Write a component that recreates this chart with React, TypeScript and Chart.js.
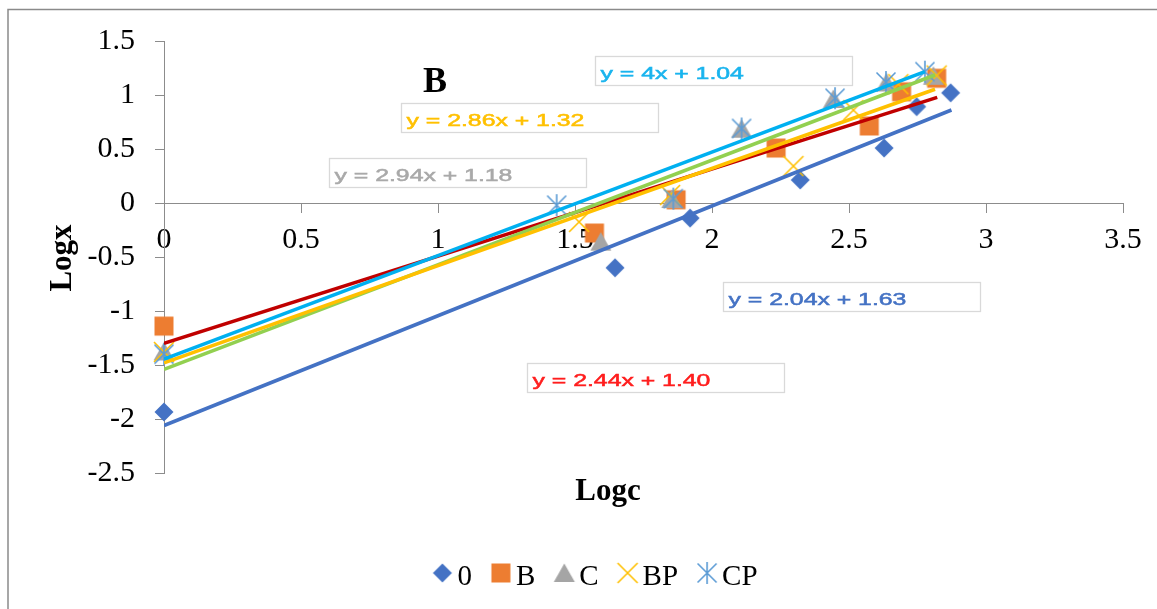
import React, { useEffect, useRef } from 'react';
import { Chart, registerables } from 'chart.js';

Chart.register(...registerables);

// Series names shown in the legend
const seriesNames = ['0', 'B', 'C', 'BP', 'CP'];

// log(c) / log(x) pairs for each series
const logc0 = [0, 1.646, 1.92, 2.322, 2.628, 2.747, 2.871];
const logx0 = [-1.935, -0.6, -0.14, 0.213, 0.509, 0.892, 1.02];

const logcB = [0, 1.571, 1.869, 2.234, 2.574, 2.692, 2.82];
const logxB = [-1.14, -0.278, 0.03, 0.509, 0.713, 1.03, 1.155];

const logcC = [0, 1.594, 1.853, 2.108, 2.443, 2.637, 2.808];
const logxC = [-1.375, -0.358, 0.037, 0.688, 0.963, 1.116, 1.178];

const logcBP = [0, 1.515, 1.847, 2.297, 2.516, 2.68, 2.82];
const logxBP = [-1.38, -0.175, 0.074, 0.342, 0.86, 1.1, 1.18];

const logcCP = [0, 1.433, 1.859, 2.108, 2.449, 2.635, 2.777];
const logxCP = [-1.4, -0.02, 0.04, 0.69, 0.97, 1.12, 1.216];

// Linear trend lines: start / end points
const trend0C = [0, 2.874];
const trend0X = [-2.06, 0.861];
const trendBC = [0, 2.822];
const trendBX = [-1.3, 0.978];
const trendCC = [0, 2.814];
const trendCX = [-1.54, 1.185];
const trendBPC = [0, 2.814];
const trendBPX = [-1.48, 1.053];
const trendCPC = [0, 2.777];
const trendCPX = [-1.445, 1.216];

// Fitted equations printed in text boxes
const equations = [
  'y = 2.04x + 1.63',
  'y = 2.44x + 1.40',
  'y = 2.94x + 1.18',
  'y = 2.86x + 1.32',
  'y = 4x + 1.04',
];

// Axis ranges
const xRange = [0, 3.5];
const yRange = [-2.5, 1.5];
const tickStep = 0.5;

// ---- styling ----
const markerColors = ['#4472C4', '#ED7D31', '#A5A5A5', '#FFC000', '#5B9BD5'];
const trendColors = ['#4472C4', '#C00000', '#92D050', '#FFC000', '#00B0F0'];
const equationColors = ['#4472C4', '#FF1E1E', '#A9A9A9', '#FFC000', '#19B4EE'];
// top-left corner of each equation box, in axis units
const equationAnchors = [
  [2.041, -0.729],
  [1.324, -1.484],
  [0.601, 0.419],
  [0.864, 0.923],
  [1.573, 1.361],
];
const SERIF = '"Liberation Serif", "Times New Roman", serif';
const AXIS_GREY = '#8c8c8c';

function pts(xs: number[], ys: number[]) {
  return xs.map((x, i) => ({ x, y: ys[i] }));
}

function makeMarker(kind: number): HTMLCanvasElement {
  const c = document.createElement('canvas');
  const s = 24;
  c.width = s;
  c.height = s;
  const g = c.getContext('2d') as CanvasRenderingContext2D;
  const m = s / 2;
  g.fillStyle = markerColors[kind];
  g.strokeStyle = markerColors[kind];
  g.lineWidth = 1.6;
  g.beginPath();
  if (kind === 0) {
    g.moveTo(m, m - 9.5);
    g.lineTo(m + 9.5, m);
    g.lineTo(m, m + 9.5);
    g.lineTo(m - 9.5, m);
    g.closePath();
    g.fill();
  } else if (kind === 1) {
    g.rect(m - 9.5, m - 9.5, 19, 19);
    g.fill();
  } else if (kind === 2) {
    g.moveTo(m, m - 9.5);
    g.lineTo(m + 10.5, m + 9);
    g.lineTo(m - 10.5, m + 9);
    g.closePath();
    g.fill();
  } else if (kind === 3) {
    g.moveTo(m - 10, m - 10);
    g.lineTo(m + 10, m + 10);
    g.moveTo(m + 10, m - 10);
    g.lineTo(m - 10, m + 10);
    g.stroke();
  } else {
    g.moveTo(m, m - 11);
    g.lineTo(m, m + 11);
    g.moveTo(m - 9.5, m - 9.5);
    g.lineTo(m + 9.5, m + 9.5);
    g.moveTo(m + 9.5, m - 9.5);
    g.lineTo(m - 9.5, m + 9.5);
    g.stroke();
  }
  return c;
}

export default function App() {
  const canvasRef = useRef<HTMLCanvasElement | null>(null);

  useEffect(() => {
    const canvas = canvasRef.current;
    if (!canvas) return;
    const markers = [0, 1, 2, 3, 4].map(makeMarker);

    const seriesX = [logc0, logcB, logcC, logcBP, logcCP];
    const seriesY = [logx0, logxB, logxC, logxBP, logxCP];
    const trendX = [trend0C, trendBC, trendCC, trendBPC, trendCPC];
    const trendY = [trend0X, trendBX, trendCX, trendBPX, trendCPX];

    const pointSets = seriesNames.map((name, i) => ({
      label: name,
      data: pts(seriesX[i], seriesY[i]),
      pointStyle: markers[i],
      pointRadius: 10,
      showLine: false,
      clip: false,
      order: 10 - i,
    }));
    const lineSets = seriesNames.map((name, i) => ({
      label: 'trend ' + name,
      data: pts(trendX[i], trendY[i]),
      showLine: true,
      pointRadius: 0,
      borderColor: trendColors[i],
      borderWidth: 3.6,
      fill: false,
      order: -1 - i,
    }));

    const decor = {
      id: 'decor',
      beforeDraw(chart: any) {
        const ctx = chart.ctx as CanvasRenderingContext2D;
        ctx.save();
        ctx.fillStyle = '#ffffff';
        ctx.fillRect(0, 0, chart.width, chart.height);
        ctx.strokeStyle = '#8a8a8a';
        ctx.lineWidth = 1.5;
        ctx.strokeRect(8, 9.5, chart.width + 40, chart.height + 40);
        ctx.restore();
      },
      afterDraw(chart: any) {
        const ctx = chart.ctx as CanvasRenderingContext2D;
        const xs = chart.scales.x;
        const ys = chart.scales.y;
        ctx.save();

        // equation text boxes
        equations.forEach((text, i) => {
          const left = Math.round(xs.getPixelForValue(equationAnchors[i][0])) + 0.5;
          const top = Math.round(ys.getPixelForValue(equationAnchors[i][1])) + 0.5;
          ctx.strokeStyle = '#d9d9d9';
          ctx.lineWidth = 1.3;
          ctx.strokeRect(left, top, 257, 29);
          ctx.save();
          ctx.translate(left + 5, top + 22);
          ctx.scale(1.55, 1);
          ctx.font = '16px "Liberation Sans", Arial, sans-serif';
          ctx.fillStyle = equationColors[i];
          ctx.strokeStyle = equationColors[i];
          ctx.lineWidth = 0.5;
          ctx.textBaseline = 'alphabetic';
          ctx.textAlign = 'left';
          ctx.fillText(text, 0, 0);
          ctx.strokeText(text, 0, 0);
          ctx.restore();
        });

        // panel letter
        ctx.fillStyle = '#000';
        ctx.textAlign = 'left';
        ctx.textBaseline = 'alphabetic';
        ctx.font = 'bold 36px ' + SERIF;
        ctx.fillText('B', 423, 92);

        // axis titles
        ctx.font = 'bold 31px ' + SERIF;
        ctx.textAlign = 'center';
        ctx.fillText('Logc', 608, 500);
        ctx.save();
        ctx.translate(71, 258);
        ctx.rotate(-Math.PI / 2);
        ctx.fillText('Logx', 0, 0);
        ctx.restore();

        // legend
        ctx.font = '29px ' + SERIF;
        ctx.textAlign = 'left';
        const widths = seriesNames.map((n) => ctx.measureText(n).width);
        let total = 0;
        widths.forEach((w, i) => {
          total += 25 + w + (i < widths.length - 1 ? 19 : 0);
        });
        let cursor = 595 - total / 2;
        const cy = 573;
        seriesNames.forEach((n, i) => {
          const mx = cursor + 10;
          const img = markers[i];
          ctx.drawImage(img, mx - img.width / 2, cy - img.height / 2);
          ctx.fillStyle = '#000';
          ctx.fillText(n, mx + 15, 585);
          cursor = mx + 15 + widths[i] + 19;
        });
        ctx.restore();
      },
    };

    const tickFont = { family: SERIF, size: 30 };
    const chart = new Chart(canvas, {
      type: 'scatter',
      data: { datasets: [...pointSets, ...lineSets] as any },
      options: {
        animation: false,
        responsive: false,
        maintainAspectRatio: false,
        devicePixelRatio: 1,
        events: [],
        layout: { padding: { left: 0, top: 41, right: 34, bottom: 136 } },
        plugins: {
          legend: { display: false },
          tooltip: { enabled: false },
          title: { display: false },
        },
        scales: {
          x: {
            type: 'linear',
            min: xRange[0],
            max: xRange[1],
            position: { y: 0 } as any,
            ticks: {
              stepSize: tickStep,
              autoSkip: false,
              font: tickFont,
              color: '#000',
              padding: 10,
              maxRotation: 0,
              callback: (v: any) => String(v),
            },
            grid: { drawOnChartArea: false, tickLength: 9, color: AXIS_GREY, lineWidth: 1 },
            border: { color: AXIS_GREY, width: 1 },
            afterFit: (s: any) => {
              s.paddingLeft = 0;
              s.paddingRight = 0;
            },
          },
          y: {
            type: 'linear',
            min: yRange[0],
            max: yRange[1],
            ticks: {
              stepSize: tickStep,
              autoSkip: false,
              font: tickFont,
              color: '#000',
              padding: 20,
              callback: (v: any) => String(v),
            },
            grid: { drawOnChartArea: false, tickLength: 9, color: AXIS_GREY, lineWidth: 1 },
            border: { color: AXIS_GREY, width: 1 },
            afterFit: (s: any) => {
              s.width = 164;
              s.paddingTop = 0;
              s.paddingBottom = 0;
            },
          },
        },
      },
      plugins: [decor],
    });

    return () => chart.destroy();
  }, []);

  return (
    <div style={{ position: 'absolute', left: 0, top: 0, width: 1157, height: 609, background: '#fff' }}>
      <canvas ref={canvasRef} width={1157} height={609} style={{ display: 'block' }} />
    </div>
  );
}
